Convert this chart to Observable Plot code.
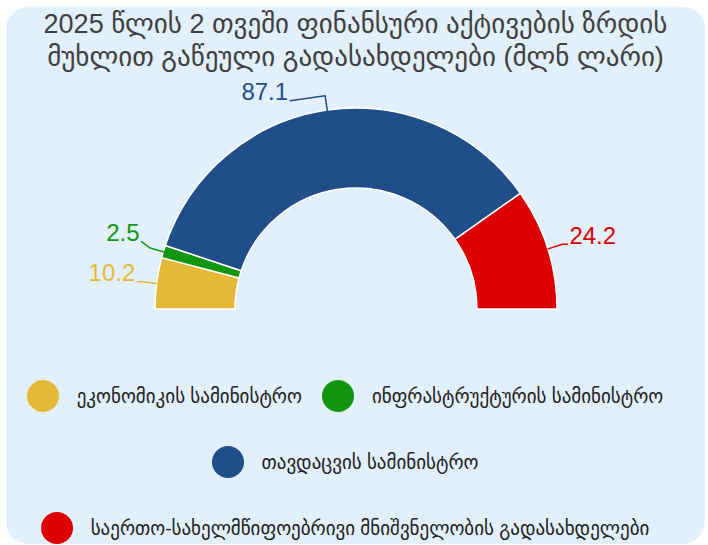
<!DOCTYPE html>
<html><head><meta charset="utf-8">
<script src="https://cdn.jsdelivr.net/npm/d3@7"></script>
<script src="https://cdn.jsdelivr.net/npm/@observablehq/plot@0.6"></script>
<style>
  html,body{margin:0;padding:0;}
  body{width:708px;height:545px;position:relative;overflow:hidden;background:#fff;
       font-family:"Liberation Sans",Arial,"DejaVu Sans",sans-serif;}
  #bg{position:absolute;left:6px;top:7px;width:699px;height:537px;background:#e2effc;border-radius:22px;}
  #title{position:absolute;left:6px;width:699px;top:8px;text-align:center;font-size:27px;line-height:33px;color:#404040;}
  #chart{position:absolute;left:0;top:0;}
  #legend{position:absolute;left:0;width:690px;top:380px;}
  .row{display:flex;justify-content:center;align-items:center;height:32px;margin-bottom:34px;}
  .item{display:flex;align-items:center;margin:0 10px;}
  .sw{width:32px;height:32px;border-radius:50%;margin-right:18px;flex:none;}
  .lab{font-size:19px;color:#222;white-space:nowrap;}
</style>
</head><body>
<div id="bg"></div>
<div id="title"></div>
<div id="chart"></div>
<div id="legend"></div>
<script>
// ---- data ----
const titleLines = ["2025 წლის 2 თვეში ფინანსური აქტივების ზრდის", "მუხლით გაწეული გადასახდელები (მლნ ლარი)"];
const categories = ["ეკონომიკის სამინისტრო", "ინფრასტრუქტურის სამინისტრო", "თავდაცვის სამინისტრო", "საერთო-სახელმწიფოებრივი მნიშვნელობის გადასახდელები"];
const values = [10.2, 2.5, 87.1, 24.2];
const valueLabels = ["10.2", "2.5", "87.1", "24.2"];
const colors = ["#e5b938", "#13960f", "#1f4e89", "#dd0000"];
const legendRows = [[0, 1], [2], [3]];

// ---- layout ----
const W = 708, H = 545;
const CX = 356, CY = 309, R_OUT = 201, R_IN = 121;

document.getElementById("title").innerHTML = titleLines.map(t => `<div>${t}</div>`).join("");

const pie = d3.pie().sort(null).startAngle(-Math.PI / 2).endAngle(Math.PI / 2)(values);
const arcGen = d3.arc().innerRadius(R_IN).outerRadius(R_OUT);

const pt = (a, r) => [CX + r * Math.sin(a), CY - r * Math.cos(a)];

// label geometry
const labels = pie.map((p, i) => {
  const a = (p.startAngle + p.endAngle) / 2;
  const side = Math.sin(a) >= 0 ? 1 : -1;
  const anchor = pt(a, R_OUT);
  const elbow = pt(a, R_OUT + 15);
  const run = Math.abs(Math.sin(a)) < 0.3 ? 35 : 5;
  return {i, a, side, anchor, elbow, end: [elbow[0] + side * run, elbow[1] + (run > 5 ? 5 : 0)]};
});
// simple vertical de-overlap on left side (bottom to top)
const left = labels.filter(l => l.side < 0 && Math.abs(Math.sin(l.a)) >= 0.3).sort((a, b) => b.end[1] - a.end[1]);
for (let k = 1; k < left.length; k++) {
  const lim = left[k - 1].end[1] - 40;
  if (left[k].end[1] > lim) left[k].end = [left[k].end[0] - 3, lim];
}
const leaderPts = labels.flatMap(l => [l.anchor, l.elbow, l.end].map(p => ({x: p[0], y: p[1], k: l.i})));

const arcMark = () => {
  const g = d3.create("svg:g").attr("transform", `translate(${CX},${CY})`);
  g.selectAll("path").data(pie).join("path")
    .attr("d", arcGen)
    .attr("fill", (d, i) => colors[i])
    .attr("stroke", "#ffffff")
    .attr("stroke-width", 1.5)
    .attr("stroke-linejoin", "round");
  return g.node();
};

const textOpts = {
  x: d => d.end[0] + d.side * 2,
  y: d => d.end[1],
  dy: -8,
  text: d => valueLabels[d.i],
  fill: d => colors[d.i],
  fontSize: 24,
  fontFamily: "Liberation Sans, Arial, sans-serif"
};

const chart = Plot.plot({
  width: W, height: H, margin: 0,
  x: {type: "identity", axis: null}, y: {type: "identity", axis: null},
  style: {background: "transparent", overflow: "visible"},
  marks: [
    arcMark,
    Plot.line(leaderPts, {x: "x", y: "y", z: "k", stroke: d => colors[d.k], strokeWidth: 1.5, curve: "linear"}),
    Plot.text(labels.filter(l => l.side > 0), {...textOpts, textAnchor: "start"}),
    Plot.text(labels.filter(l => l.side < 0), {...textOpts, textAnchor: "end"})
  ]
});
document.getElementById("chart").appendChild(chart);

// legend
const legend = document.getElementById("legend");
legendRows.forEach(row => {
  const r = document.createElement("div");
  r.className = "row";
  row.forEach(i => {
    const it = document.createElement("div");
    it.className = "item";
    it.innerHTML = `<span class="sw" style="background:${colors[i]}"></span><span class="lab">${categories[i]}</span>`;
    r.appendChild(it);
  });
  legend.appendChild(r);
});
</script>
</body></html>
